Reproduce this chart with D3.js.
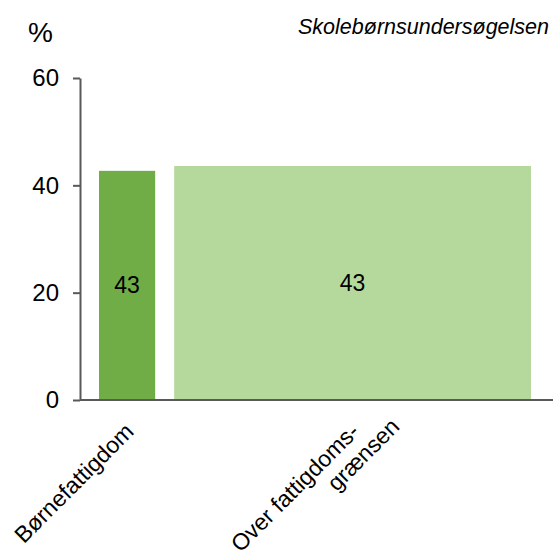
<!DOCTYPE html>
<html>
<head>
<meta charset="utf-8">
<script src="https://cdn.jsdelivr.net/npm/d3@7"></script>
<style>
  body { margin: 0; background: #fff; }
  text { font-family: "Liberation Sans", Arial, sans-serif; fill: #000; }
</style>
</head>
<body>
<div class="viz"></div>
<script>
const width = 553;
const height = 555;

// data
const labelLines = [['Børnefattigdom'], ['Over fattigdoms-', 'grænsen']];
const values = [42.7, 43.6];
const valueLabels = ['43', '43'];
const shares = [13.6, 86.4]; // bar widths, share of children
const yTicks = [0, 20, 40, 60];
const colours = ['#70ad47', '#b5d99c'];

const axisX = 80;
const baseY = 400;
const gap = 19;

const svg = d3.select('.viz')
  .append('svg')
    .attr('width', width)
    .attr('height', height);

const y = d3.scaleLinear()
  .domain([0, 60])
  .range([baseY, 78]);

const x = d3.scaleLinear()
  .domain([0, d3.sum(shares)])
  .range([99, 531 - gap * (shares.length - 1)]);

const cum = d3.cumsum([0].concat(shares));
const bars = values.map((v, i) => ({
  value: v,
  label: valueLabels[i],
  lines: labelLines[i],
  colour: colours[i],
  x0: x(cum[i]) + i * gap,
  x1: x(cum[i + 1]) + i * gap
}));

// bars
svg.selectAll('rect.bar')
  .data(bars)
  .enter()
  .append('rect')
    .attr('class', 'bar')
    .attr('x', d => d.x0)
    .attr('y', d => y(d.value))
    .attr('width', d => d.x1 - d.x0)
    .attr('height', d => baseY - y(d.value))
    .attr('fill', d => d.colour);

// value labels
svg.selectAll('text.value')
  .data(bars)
  .enter()
  .append('text')
    .attr('class', 'value')
    .attr('x', d => (d.x0 + d.x1) / 2)
    .attr('y', d => (y(d.value) + baseY) / 2)
    .attr('text-anchor', 'middle')
    .attr('dominant-baseline', 'central')
    .style('font-size', '23px')
    .text(d => d.label);

// y axis
const yAxis = svg.append('g')
  .attr('transform', `translate(${axisX},0)`)
  .call(d3.axisLeft(y).tickValues(yTicks).tickSize(7).tickSizeOuter(0).tickPadding(14));

yAxis.select('.domain').attr('stroke', '#595959').attr('stroke-width', 2);
yAxis.selectAll('.tick line').attr('stroke', '#595959').attr('stroke-width', 2);
yAxis.selectAll('.tick text')
  .style('font-size', '24px')
  .style('font-family', '"Liberation Sans", Arial, sans-serif')
  .attr('fill', '#000');

// baseline
svg.append('line')
  .attr('x1', axisX)
  .attr('x2', width)
  .attr('y1', baseY)
  .attr('y2', baseY)
  .attr('stroke', '#595959')
  .attr('stroke-width', 2);

// category labels
const cat = svg.selectAll('text.cat')
  .data(bars)
  .enter()
  .append('text')
    .attr('class', 'cat')
    .attr('text-anchor', 'end')
    .attr('transform', d => `translate(${(d.x0 + d.x1) / 2 + 8},${baseY + 33}) rotate(-45)`)
    .style('font-size', '23px');

cat.selectAll('tspan')
  .data(d => d.lines)
  .enter()
  .append('tspan')
    .attr('x', (d, i) => i * 32)
    .attr('y', (d, i) => i * 25)
    .text(d => d);

// unit and source
svg.append('text')
  .attr('x', 28)
  .attr('y', 42)
  .style('font-size', '28px')
  .text('%');

svg.append('text')
  .attr('x', 549)
  .attr('y', 34)
  .attr('text-anchor', 'end')
  .style('font-size', '21.5px')
  .style('font-style', 'italic')
  .text('Skolebørnsundersøgelsen');
</script>
</body>
</html>
